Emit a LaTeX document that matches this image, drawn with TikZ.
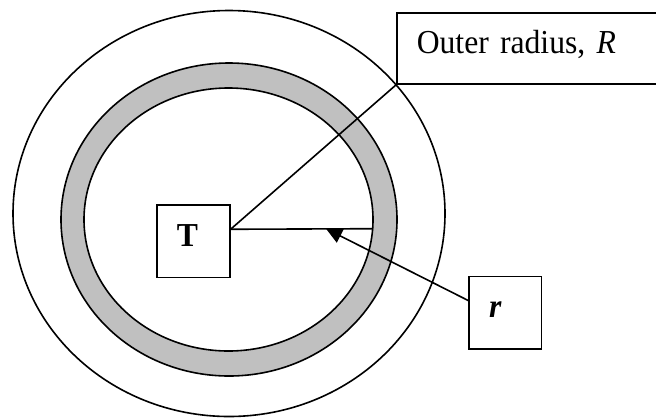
\documentclass[tikz,border=0pt]{standalone}
\usepackage{fontspec}
\setmainfont{Liberation Serif}[FakeStretch=0.945]
\usetikzlibrary{calc,arrows.meta}
\begin{document}
\begin{tikzpicture}[x=1bp,y=-1bp,line width=1.6bp,
  lbl/.style={draw,fill=white,anchor=north west,inner xsep=20bp,inner ysep=0pt,
     align=left,font=\fontsize{33.5bp}{40bp}\selectfont},
  conn/.style={draw,line width=1.6bp}]
\useasboundingbox (0,0) rectangle (656,417);
\clip (0,0) rectangle (656,417);
\fill[white] (0,0) rectangle (656,417);
% outer circle
\draw (229,213.5) ellipse [x radius=216, y radius=203];
% grey ring
\draw[fill={rgb,255:red,192;green,192;blue,192},even odd rule]
  (229,219.5) ellipse [x radius=168, y radius=156.5]
  (228.5,219.5) ellipse [x radius=144.5, y radius=131.5];
% boxes
\node[lbl,text width=33bp,text height=42bp,text depth=30.7bp] (T) at (156,204) {\textbf{T}};
\node[lbl,text width=32.4bp,text height=41bp,text depth=31.6bp] (r) at (468.3,275.7) {\textbf{\textit{r}}};
\node[lbl,text width=240bp,text height=40.5bp,text depth=30.8bp] (O) at (396,12) {Outer radius, \textit{R}};
% connectors
\coordinate (t0) at ($(T.north east)!0.34!(T.south east)$);
\coordinate (rim) at (373,228.7);
\coordinate (tip) at (326,228.7);
\draw[conn] (t0) -- (O.south west);
\draw[conn] (t0) -- (rim);
\draw[conn,-{Triangle[length=16bp,width=15bp]}] ($(r.north west)!0.335!(r.south west)$) -- (tip);
\end{tikzpicture}
\end{document}
